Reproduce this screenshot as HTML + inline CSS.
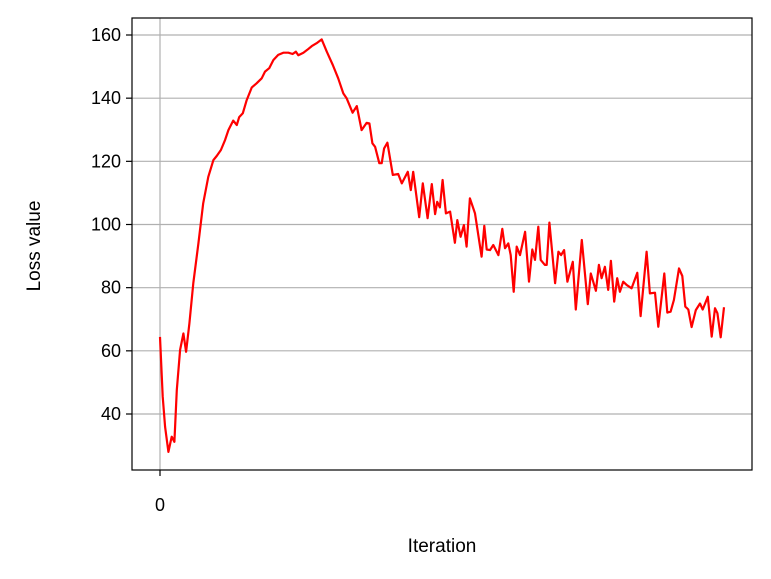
<!DOCTYPE html>
<html><head><meta charset="utf-8"><style>
html,body{margin:0;padding:0;background:#fff;}
svg{display:block;font-family:"Liberation Sans","DejaVu Sans",sans-serif;}
</style></head><body>
<svg id="chart" width="771" height="579" viewBox="0 0 771 579" xmlns="http://www.w3.org/2000/svg">
<rect width="771" height="579" fill="#fff"/>
<g id="grid"></g>
<g id="ticks"></g>
<path id="line" fill="none" stroke="#ff0000" stroke-width="2.2" stroke-linejoin="round"/>
<rect x="132" y="18" width="620" height="452" fill="none" stroke="#000" stroke-width="1.2"/>
<text x="442" y="552" font-size="19" text-anchor="middle">Iteration</text>
<text transform="translate(40,246) rotate(-90)" font-size="19" text-anchor="middle">Loss value</text>
</svg>
<script>
const iterations=[0,0.9,1.7,2.8,3.9,4.8,5.6,6.7,7.8,8.7,9.8,11.1,12.8,14.4,16.1,17.8,18.9,20.3,21.7,22.8,24.4,25.6,26.4,27.6,28.9,30.6,32.2,33.9,35,36.4,37.8,39.4,41.1,42.8,44.2,45.3,46.1,47.8,49.1,50.6,52.2,53.9,55.6,57.6,59.4,61.1,62.2,64.2,65.6,67.2,68.9,69.8,70.8,71.7,73.1,73.9,74.7,75.8,77.6,79.4,80.6,82.6,83.6,84.4,86.4,87.6,89.2,90.6,91.7,92.4,93.3,94.2,95.3,96.7,98.3,99.1,100.2,101.3,102.2,103.3,105,107.2,108.1,108.9,110,111.1,112.8,114.1,115,116.1,116.9,117.9,118.9,120,121.7,123,124.1,125,126.1,126.9,128.3,128.9,129.8,131.7,132.8,133.7,134.7,135.8,137.6,138.6,140.6,142.6,143.6,145.3,146.3,147.2,148.3,149.4,150.3,151.4,152.4,153.3,154.4,155.6,157.2,159.1,160.2,162.2,163.3,165,166.1,168.1,169.1,170.2,171.3,173,174.1,175.1,176.1,177.2,178.6,180,180.9,182.6,183.9,185,185.8,186.9,188];
const losses=[64.4,45.5,35.9,28,32.8,31.2,47.6,60.3,65.5,59.7,68.7,81.4,94,106.7,115.1,120.4,121.7,123.6,126.8,129.9,132.9,131.5,134,135.2,139.4,143.4,144.7,146.3,148.4,149.5,152.1,153.7,154.4,154.4,154,154.7,153.6,154.4,155.3,156.5,157.4,158.6,154.7,150.5,146.3,141.5,140,135.4,137.5,129.9,132.2,132,125.7,124.6,119.4,119.4,124.1,125.9,115.7,116,113,116.7,110.9,116.7,102.3,113,102,112.8,103.3,107.2,105.4,114.1,103.5,104.1,94.2,101.4,96.1,99.8,93,108.3,103.5,89.8,99.6,92.1,91.9,93.5,90.3,98.6,92.5,94,90.3,78.7,93,90.3,97.7,81.9,92.1,88.8,99.3,88.8,87.2,87.2,100.6,81.4,91.4,90.3,91.9,81.9,88.2,73.1,95.1,74.8,84.5,79,87.2,83,86.6,79.3,88.5,75.6,83,78.7,81.9,80.8,79.8,84.7,71,91.4,78.2,78.4,67.6,84.5,72.1,72.4,76.1,86.1,83.7,74,73.1,67.5,72.9,75,73.1,77.1,64.5,73.5,71.9,64.3,73.8];
const yTicks=[40,60,80,100,120,140,160];
const xTicks=[0];
const n=Math.min(iterations.length,losses.length);
function xs(v){return 160+v/188*564;}
function ys(v){return 35+(160-v)*379/120;}
const NS="http://www.w3.org/2000/svg";
const grid=document.getElementById('grid'),ticks=document.getElementById('ticks');
yTicks.forEach(t=>{
  const l=document.createElementNS(NS,'line');
  
  
  l.setAttribute('x1',132);l.setAttribute('x2',752);l.setAttribute('y1',ys(t));l.setAttribute('y2',ys(t));
  l.setAttribute('stroke','#b0b0b0');l.setAttribute('stroke-width','1.2');grid.appendChild(l);
  const tk=document.createElementNS(NS,'line');
  
  
  tk.setAttribute('x1',126);tk.setAttribute('x2',132);tk.setAttribute('y1',ys(t));tk.setAttribute('y2',ys(t));
  tk.setAttribute('stroke','#000');tk.setAttribute('stroke-width','1.2');ticks.appendChild(tk);
  const tx=document.createElementNS(NS,'text');
  
  
  tx.setAttribute('x',121);tx.setAttribute('y',ys(t)+6);tx.setAttribute('text-anchor','end');tx.setAttribute('font-size','18');
  tx.textContent=t;ticks.appendChild(tx);
});
xTicks.forEach(t=>{
  const l=document.createElementNS(NS,'line');
  
  
  l.setAttribute('x1',xs(t));l.setAttribute('x2',xs(t));l.setAttribute('y1',18);l.setAttribute('y2',470);
  l.setAttribute('stroke','#b0b0b0');l.setAttribute('stroke-width','1.2');grid.appendChild(l);
  const tk=document.createElementNS(NS,'line');
  
  
  tk.setAttribute('x1',xs(t));tk.setAttribute('x2',xs(t));tk.setAttribute('y1',470);tk.setAttribute('y2',476);
  tk.setAttribute('stroke','#000');tk.setAttribute('stroke-width','1.2');ticks.appendChild(tk);
  const tx=document.createElementNS(NS,'text');
  
  
  tx.setAttribute('x',xs(t));tx.setAttribute('y',511);tx.setAttribute('text-anchor','middle');tx.setAttribute('font-size','18');
  tx.textContent=t;ticks.appendChild(tx);
});
let d='';
for(let i=0;i<n;i++){d+=(i?'L':'M')+xs(iterations[i]).toFixed(1)+','+ys(losses[i]).toFixed(1);}
document.getElementById('line').setAttribute('d',d);
</script>
</body></html>
